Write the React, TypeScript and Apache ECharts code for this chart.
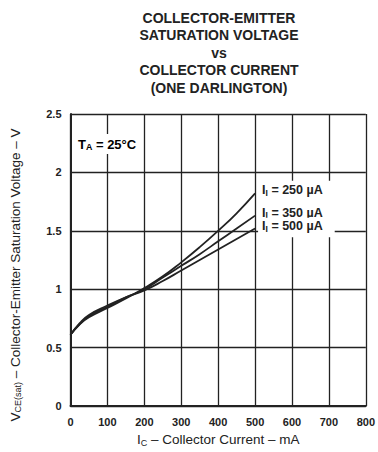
import React, { useEffect, useRef } from "react";
import * as echarts from "echarts";

const currents = [0, 25, 50, 100, 150, 200, 250, 300, 350, 400, 450, 500];
const v250 = [0.61, 0.7, 0.76, 0.84, 0.92, 1.01, 1.11, 1.23, 1.36, 1.5, 1.65, 1.82];
const v350 = [0.61, 0.7, 0.77, 0.85, 0.93, 1.0, 1.1, 1.2, 1.3, 1.41, 1.52, 1.63];
const v500 = [0.61, 0.71, 0.78, 0.86, 0.93, 0.99, 1.07, 1.16, 1.25, 1.34, 1.43, 1.52];
const seriesNames = ["250 µA", "350 µA", "500 µA"];
const titleLines = ["COLLECTOR-EMITTER", "SATURATION VOLTAGE", "vs", "COLLECTOR CURRENT", "(ONE DARLINGTON)"];

const FONT = "Liberation Sans, Arial, sans-serif";
const INK = "#222";

export default function App() {
  const ref = useRef<HTMLDivElement>(null);
  useEffect(() => {
    if (!ref.current) return;
    const chart = echarts.init(ref.current, undefined, { renderer: "svg" });
    const seriesData = [v250, v350, v500];
    const labelOffsets = [[0, -2], [0, -4], [0, -1]];
    const labelPads = [[3, 12, 5, 4], [5, 12, 2, 4], [2, 12, 4, 4]];
    const subRich = (size: number) => ({
      m: { fontFamily: FONT, fontSize: size, fontWeight: "bold", color: INK, lineHeight: size + 1 },
      s: { fontFamily: FONT, fontSize: size * 0.68, fontWeight: "bold", color: INK, lineHeight: size * 0.6, verticalAlign: "bottom" },
    });
    chart.setOption({
      animation: false,
      backgroundColor: "#fff",
      grid: { left: 67, top: 114, width: 300, height: 297, containLabel: false },
      xAxis: {
        type: "value",
        min: 0,
        max: 800,
        interval: 100,
        axisLine: { show: true, lineStyle: { color: INK, width: 2 } },
        axisTick: { show: false },
        splitLine: { show: true, lineStyle: { color: INK, width: 1.3 } },
        axisLabel: { fontFamily: FONT, fontSize: 11, fontWeight: "bold", color: INK, margin: 10 },
        name: "{m|I}{s|C}{m| – Collector Current – mA}",
        nameLocation: "middle",
        nameGap: 26,
        nameTextStyle: {
          rich: {
            m: { fontFamily: FONT, fontSize: 13.5, color: INK, lineHeight: 15 },
            s: { fontFamily: FONT, fontSize: 9, color: INK, lineHeight: 8, verticalAlign: "bottom" },
          },
        },
      },
      yAxis: {
        type: "value",
        min: 0,
        max: 2.5,
        interval: 0.5,
        axisLine: { show: true, lineStyle: { color: INK, width: 2 } },
        axisTick: { show: false },
        splitLine: { show: true, lineStyle: { color: INK, width: 1.3 } },
        axisLabel: { fontFamily: FONT, fontSize: 11, fontWeight: "bold", color: INK, margin: 9 },
        name: "{m|V}{s|CE(sat)}{m| – Collector-Emitter Saturation Voltage – V}",
        nameLocation: "middle",
        nameRotate: 90,
        nameGap: 48,
        nameTextStyle: {
          padding: [0, 30, 0, 0],
          rich: {
            m: { fontFamily: FONT, fontSize: 13.5, color: INK, lineHeight: 15 },
            s: { fontFamily: FONT, fontSize: 9, color: INK, lineHeight: 8, verticalAlign: "bottom" },
          },
        },
      },
      graphic: [
        {
          type: "text",
          x: 219,
          y: 9,
          z: 10,
          style: {
            text: titleLines.join("\n"),
            align: "center",
            verticalAlign: "top",
            font: "bold 14px " + FONT,
            fill: INK,
            lineHeight: 17.5,
          },
        },
        {
          type: "text",
          left: 74,
          top: 134,
          z: 10,
          style: {
            text: "{m|T}{s|A}{m| = 25°C}",
            backgroundColor: "#fff",
            padding: [3, 4, 3, 4],
            rich: subRich(13),
          },
        },
      ],
      series: seriesData.map((vals, i) => ({
        type: "line",
        name: seriesNames[i],
        data: currents.map((c, j) => [c, vals[j]]),
        smooth: true,
        showSymbol: false,
        lineStyle: { color: INK, width: 1.8 },
        z: 3,
        endLabel: {
          show: true,
          distance: 3,
          offset: labelOffsets[i],
          formatter: "{m|I}{s|I}{m| = " + seriesNames[i] + "}",
          backgroundColor: "#fff",
          padding: labelPads[i],
          rich: subRich(12.5),
        },
      })),
    });
    return () => chart.dispose();
  }, []);
  return <div ref={ref} style={{ width: 378, height: 452, position: "absolute", left: 0, top: 0 }} />;
}
